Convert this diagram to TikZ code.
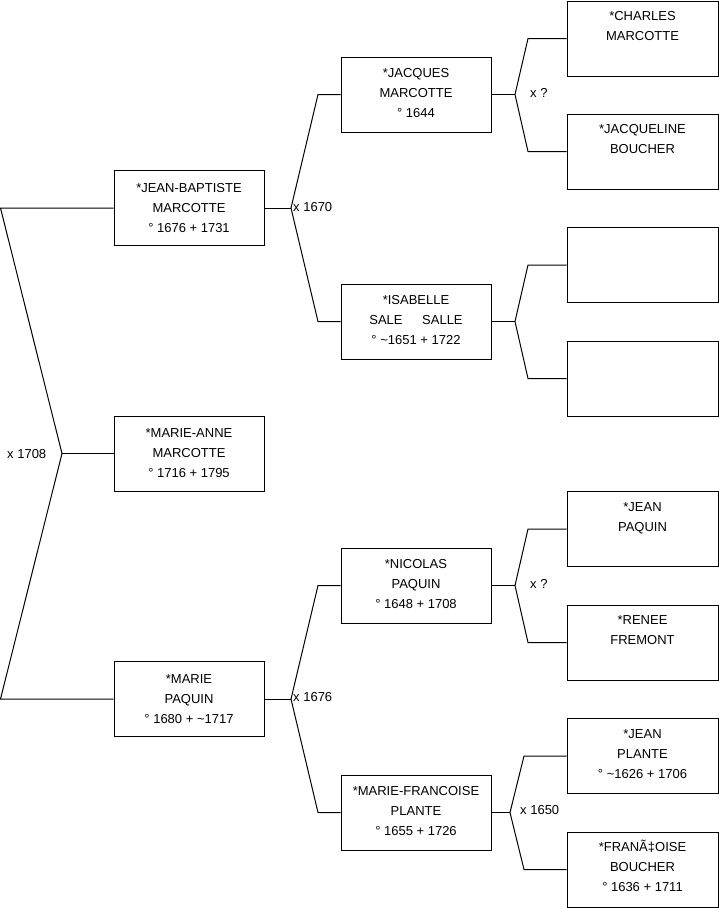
\documentclass[tikz,border=0pt]{standalone}
\usepackage{fontspec}
\setmainfont{Liberation Sans}
\tikzset{
  box/.style={draw=black, line width=1pt, minimum width=150pt, minimum height=75pt, inner sep=0pt},
  boxr/.style={box, minimum width=151pt},
  txt/.style={font=\fontsize{13}{20}\selectfont, align=center, inner sep=0pt, anchor=north},
  lbl/.style={font=\fontsize{13}{20}\selectfont, inner sep=0pt, anchor=base west},
  conn/.style={line width=1pt, line join=miter}
}
% #1 style, #2 name, #3 centre, #4 gap above text, #5 text
\newcommand\personbox[5]{%
  \node[#1] (#2) at (#3) {};
  \node[txt] (#2-t) at ([yshift=-#4pt]#2.north) {\strut #5};
}
\begin{document}
\begin{tikzpicture}[x=1pt, y=-1pt]
\useasboundingbox (0,0) rectangle (719,908);
% generation 1
\personbox{box}{jb}{189,208}{8}{*JEAN-BAPTISTE\\MARCOTTE\\° 1676 + 1731}
\personbox{box}{ma}{189,453.5}{8}{*MARIE-ANNE\\MARCOTTE\\° 1716 + 1795}
\personbox{box}{mp}{189,699}{8}{*MARIE\\PAQUIN\\° 1680 + \textasciitilde1717}
% generation 2
\personbox{box}{jm}{416,94.5}{6.5}{*JACQUES\\MARCOTTE\\° 1644}
\personbox{box}{is}{416,321.5}{6.5}{*ISABELLE\\SALE\hspace{16pt} SALLE\\° \textasciitilde1651 + 1722}
\personbox{box}{np}{416,585.5}{6.5}{*NICOLAS\\PAQUIN\\° 1648 + 1708}
\personbox{box}{mf}{416,812.5}{6.5}{*MARIE-FRANCOISE\\PLANTE\\° 1655 + 1726}
% generation 3
\personbox{boxr}{cm}{642.5,38.5}{6}{*CHARLES\\MARCOTTE}
\personbox{boxr}{jq}{642.5,151.5}{6}{*JACQUELINE\\BOUCHER}
\node[boxr] (e1) at (642.5,265) {};
\node[boxr] (e2) at (642.5,378.5) {};
\personbox{boxr}{jp}{642.5,529}{6}{*JEAN\\PAQUIN}
\personbox{boxr}{rf}{642.5,642.5}{6}{*RENEE\\FREMONT}
\personbox{boxr}{jpl}{642.5,756}{6}{*JEAN\\PLANTE\\° \textasciitilde1626 + 1706}
\personbox{boxr}{fb}{642.5,869.5}{6}{*FRANÃ‡OISE\\BOUCHER\\° 1636 + 1711}
% fork coordinates
\coordinate (a0) at (0.5,208);
\coordinate (t0) at (62,453.5);
\coordinate (b0) at (0.5,699);
\coordinate (t1) at (291,208);
\coordinate (u1) at (318,94.5);
\coordinate (d1) at (318,321.5);
\coordinate (t2) at (291,699);
\coordinate (u2) at (318,585.5);
\coordinate (d2) at (318,812.5);
\coordinate (t3) at (515,94.5);
\coordinate (u3) at (528,38.5);
\coordinate (d3) at (528,151.5);
\coordinate (t4) at (515,321.5);
\coordinate (u4) at (528,265);
\coordinate (d4) at (528,378.5);
\coordinate (t5) at (515,585.5);
\coordinate (u5) at (528,529);
\coordinate (d5) at (528,642.5);
\coordinate (t6) at (510,812.5);
\coordinate (u6) at (524,756);
\coordinate (d6) at (524,869.5);
% connectors
\draw[conn] (jb.west) -- (a0) -- (t0) -- (b0) -- (mp.west);
\draw[conn] (t0) -- (ma.west);
\draw[conn] (jb.east) -- (t1);
\draw[conn] (jm.west) -- (u1) -- (t1) -- (d1) -- (is.west);
\draw[conn] (mp.east) -- (t2);
\draw[conn] (np.west) -- (u2) -- (t2) -- (d2) -- (mf.west);
\draw[conn] (jm.east) -- (t3);
\draw[conn] (cm.west) -- (u3) -- (t3) -- (d3) -- (jq.west);
\draw[conn] (is.east) -- (t4);
\draw[conn] (e1.west) -- (u4) -- (t4) -- (d4) -- (e2.west);
\draw[conn] (np.east) -- (t5);
\draw[conn] (jp.west) -- (u5) -- (t5) -- (d5) -- (rf.west);
\draw[conn] (mf.east) -- (t6);
\draw[conn] (jpl.west) -- (u6) -- (t6) -- (d6) -- (fb.west);
% marriage labels
\node[lbl] (l0) at (7,458) {x 1708};
\node[lbl] (l1) at (293,211.7) {x 1670};
\node[lbl] (l2) at (293,701.7) {x 1676};
\node[lbl] (l3) at (530,97.7) {x ?};
\node[lbl] (l4) at (530,588.5) {x ?};
\node[lbl] (l5) at (520,814.7) {x 1650};
\end{tikzpicture}
\end{document}
